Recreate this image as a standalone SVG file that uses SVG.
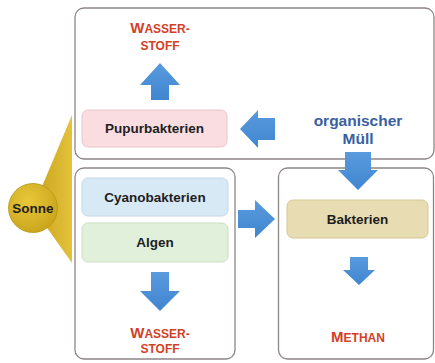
<svg xmlns="http://www.w3.org/2000/svg" width="435" height="363" viewBox="0 0 435 363">
<defs>
<style>
.frame{fill:#fff;stroke:#8f8585;stroke-width:1.3}
.node{stroke-width:1}
.lbl{font-family:"Liberation Sans",Arial,sans-serif;font-weight:bold;font-size:13.5px;fill:#1e1e1e;text-anchor:middle}
.red{font-family:"Liberation Sans",Arial,sans-serif;font-weight:bold;font-size:12px;fill:#d23f26;text-anchor:middle}
.big{font-size:15px}
.blue{font-family:"Liberation Sans",Arial,sans-serif;font-weight:bold;font-size:15.5px;fill:#3a60a4;text-anchor:middle}
.arr{fill:url(#ag)}
</style>
<linearGradient id="ag" x1="0" y1="0" x2="0" y2="1">
<stop offset="0" stop-color="#5a9ade"/>
<stop offset="1" stop-color="#3f86cf"/>
</linearGradient>
<radialGradient id="sun" cx="0.4" cy="0.35" r="0.7">
<stop offset="0" stop-color="#e8c83a"/>
<stop offset="1" stop-color="#c9a41c"/>
</radialGradient>
<linearGradient id="wedge" x1="0" y1="0" x2="1" y2="0">
<stop offset="0" stop-color="#c9a11c"/>
<stop offset="1" stop-color="#e3c23a"/>
</linearGradient>
</defs>
<rect width="435" height="363" fill="#fff"/>

<g id="frames">
<rect class="frame" x="75" y="8" width="359" height="151" rx="9"/>
<rect class="frame" x="75" y="168" width="160" height="191" rx="9"/>
<rect class="frame" x="278.5" y="168" width="155" height="191" rx="9"/>
</g>

<g id="sonne">
<polygon points="33,208 72,115 72,263" fill="url(#wedge)"/>
<circle cx="33" cy="208" r="24.5" fill="url(#sun)" stroke="#b8951a" stroke-width="0.8"/>
<text class="lbl" x="33" y="213">Sonne</text>
</g>

<g id="pupurbakterien">
<rect class="node" x="82" y="110" width="145" height="37" rx="6" fill="#f9dde1" stroke="#ecc6cb"/>
<text class="lbl" x="154.5" y="133">Pupurbakterien</text>
</g>

<g id="wasserstoff-oben">
<text class="red" x="160" y="33"><tspan class="big">W</tspan>ASSER-</text>
<text class="red" x="160" y="50">STOFF</text>
</g>

<g id="organischer-muell">
<text class="blue" x="358" y="126">organischer</text>
<text class="blue" x="358" y="144">Müll</text>
</g>

<g id="cyanobakterien">
<rect class="node" x="82" y="178" width="146" height="38" rx="6" fill="#d8e9f6" stroke="#c3d7e6"/>
<text class="lbl" x="155" y="202">Cyanobakterien</text>
</g>

<g id="algen">
<rect class="node" x="82" y="223" width="146" height="39" rx="6" fill="#e1f0da" stroke="#cadfc2"/>
<text class="lbl" x="155" y="247">Algen</text>
</g>

<g id="wasserstoff-unten">
<text class="red" x="160" y="338"><tspan class="big">W</tspan>ASSER-</text>
<text class="red" x="160" y="353">STOFF</text>
</g>

<g id="bakterien">
<rect class="node" x="287" y="200" width="141" height="38" rx="6" fill="#e8dcb2" stroke="#d6c794"/>
<text class="lbl" x="357.5" y="224">Bakterien</text>
</g>

<g id="methan">
<text class="red" x="358" y="342"><tspan class="big">M</tspan>ETHAN</text>
</g>

<g id="connectors">
<!-- up arrow to Wasserstoff (top) -->
<polygon class="arr" points="160,63 180,85 169,85 169,100 151,100 151,85 140,85"/>
<!-- left arrow into Pupurbakterien -->
<polygon class="arr" points="240,129 258,110 258,118 275,118 275,140 258,140 258,148"/>
<!-- down arrow from Müll to Bakterien -->
<polygon class="arr" points="345,152 371,152 371,170 378,170 358,190 338,170 345,170"/>
<!-- right arrow from Algen box to Bakterien box -->
<polygon class="arr" points="238,210 255,210 255,200 275,219 255,238 255,228 238,228"/>
<!-- down arrow to Wasserstoff (bottom) -->
<polygon class="arr" points="151,272 169,272 169,291 180,291 160,311 140,291 151,291"/>
<!-- down arrow to Methan -->
<polygon class="arr" points="350,257 368,257 368,270 375,270 359,285 343,270 350,270"/>
</g>
</svg>
